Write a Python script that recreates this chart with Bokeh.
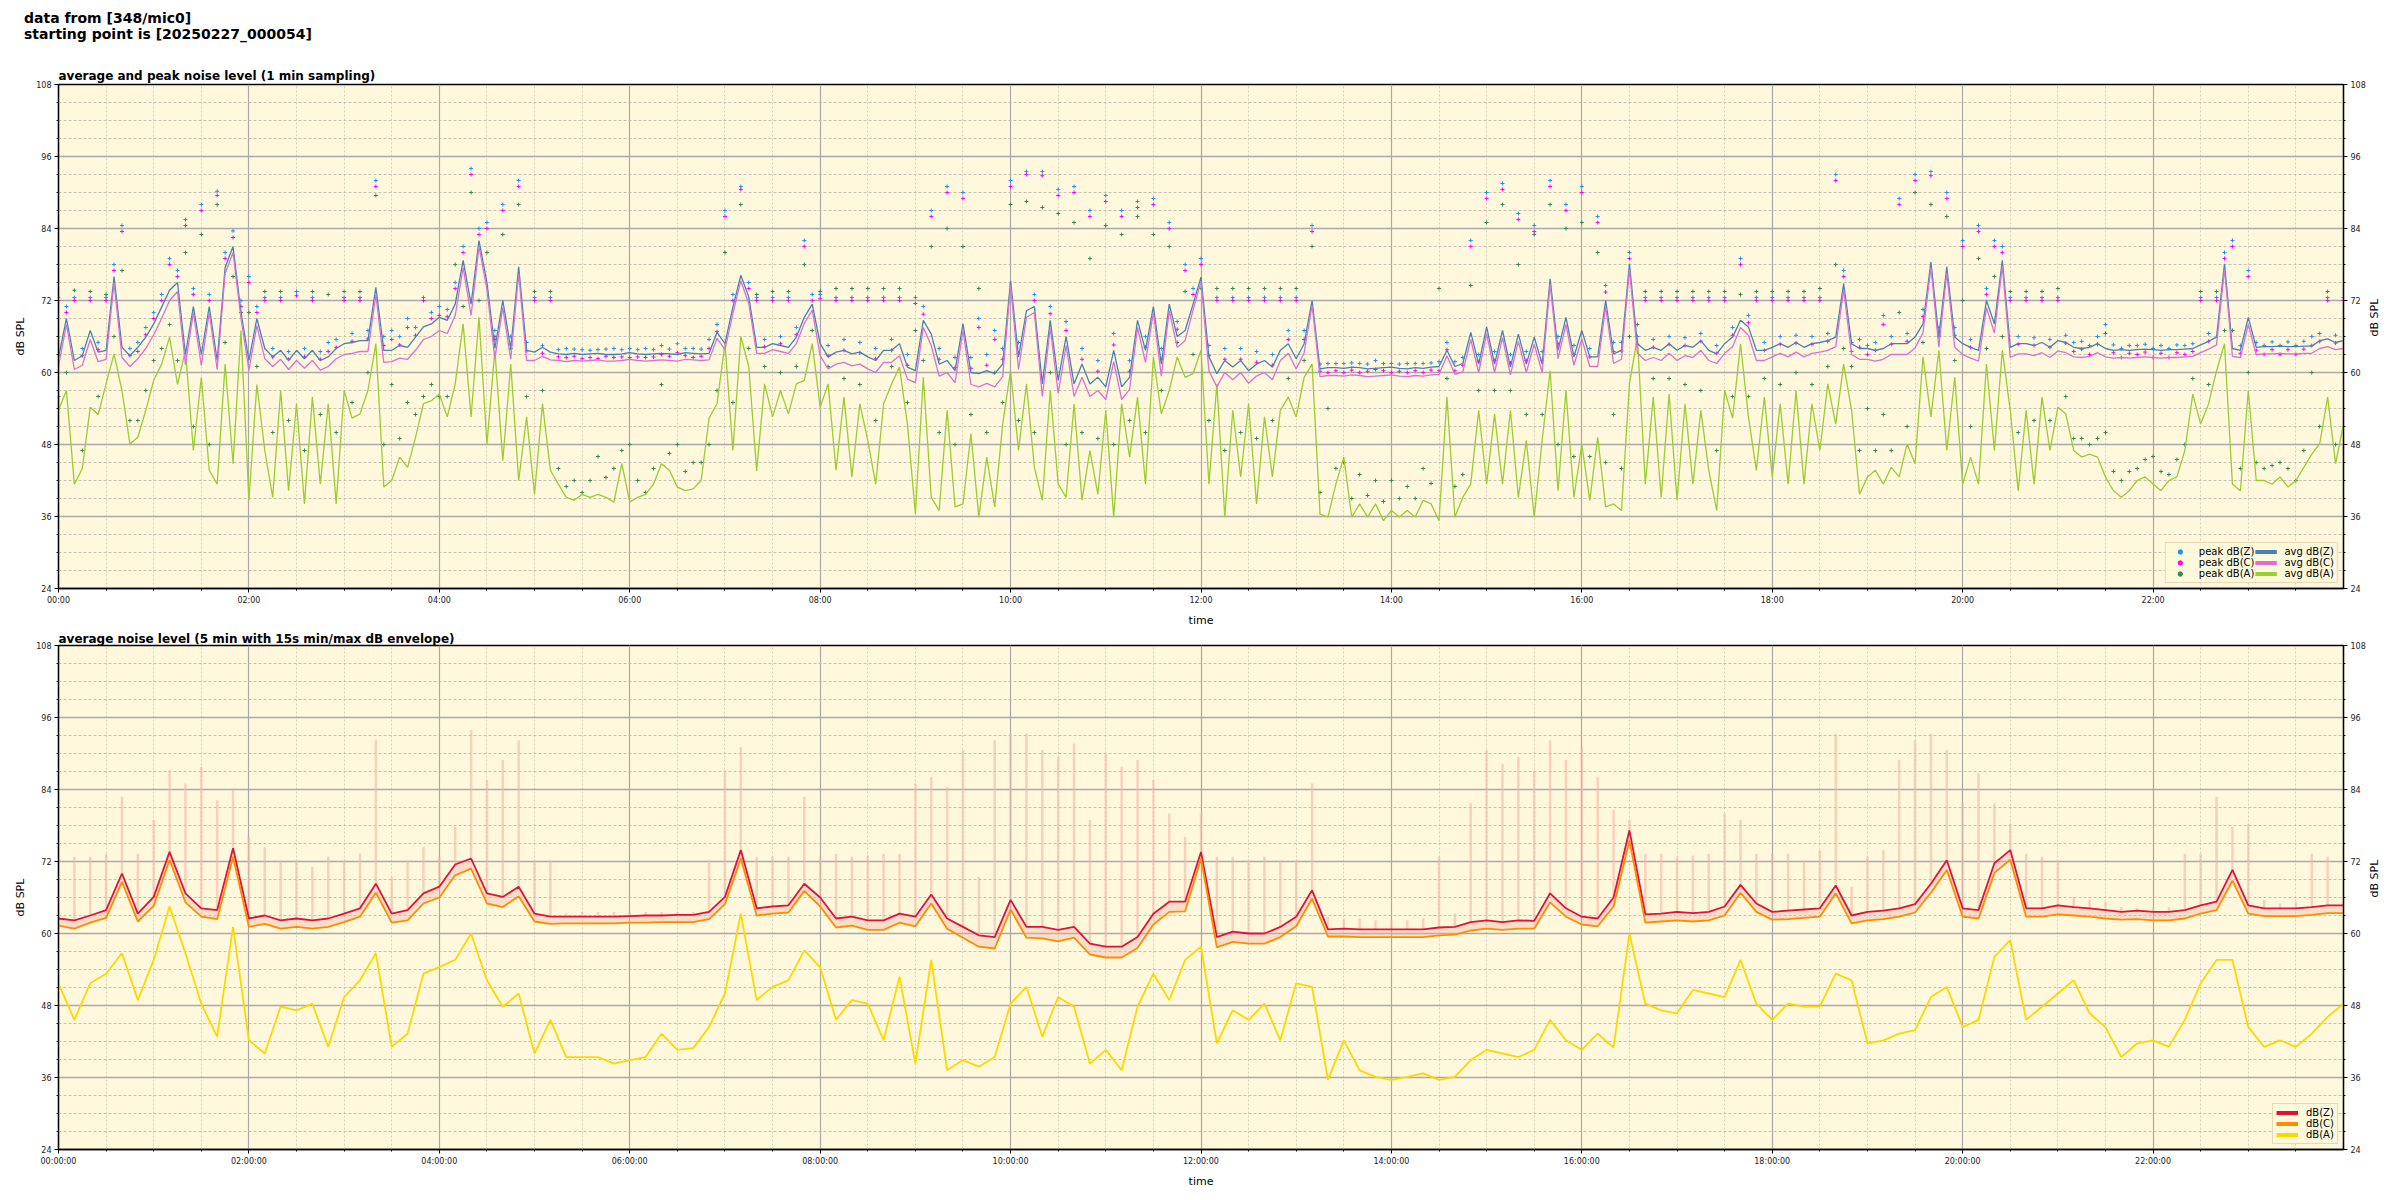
import math
from bokeh.plotting import figure
from bokeh.models import FixedTicker, LinearAxis, Legend, LegendItem, Div
from bokeh.layouts import column
from bokeh.embed import file_html
from bokeh.resources import INLINE

suptitle_1 = "data from [348/mic0]"
suptitle_2 = "starting point is [20250227_000054]"
title_1 = "average and peak noise level (1 min sampling)"
title_2 = "average noise level (5 min with 15s min/max dB envelope)"

tick_hours = [0, 2, 4, 6, 8, 10, 12, 14, 16, 18, 20, 22]
tick_labels_1 = ["00:00", "02:00", "04:00", "06:00", "08:00", "10:00",
                 "12:00", "14:00", "16:00", "18:00", "20:00", "22:00"]
tick_labels_2 = ["00:00:00", "02:00:00", "04:00:00", "06:00:00", "08:00:00", "10:00:00",
                 "12:00:00", "14:00:00", "16:00:00", "18:00:00", "20:00:00", "22:00:00"]
db_ticks = [24, 36, 48, 60, 72, 84, 96, 108]

# ---- panel 1: 1-min averages, read every 5 minutes (12 values per hour) ----
avg_z = [
    62.5, 69, 62, 62.8, 67, 63.4, 63.7, 76, 64.2, 62.8, 64.2, 65.9,
    68.1, 70.9, 73.7, 75, 63, 71, 63, 71, 62, 77.5, 81, 70,
    62, 69, 64, 62.6, 63.7, 62, 63.7, 62.3, 63.7, 62, 62.6, 64,
    64.8, 65, 65.3, 65.3, 74.2, 63.7, 63.7, 64.5, 64.2, 65.9, 67.6, 68.1,
    69.2, 68.7, 71.4, 78.7, 71.4, 82, 75, 64, 72, 64, 77.6, 63.7,
    63.4, 64.2, 63.4, 63.1, 63, 63.2, 63, 63.1, 63.2, 63, 63, 63.1,
    63.3, 63.1, 63, 63.1, 63.2, 63.1, 63, 63.3, 63.2, 63.1, 63.2, 66.7,
    64.8, 70.9, 76.2, 72.6, 64.2, 64.2, 64.8, 64.5, 64.2, 65.9, 69.2, 71.4,
    64.8, 62.6, 63.4, 63.7, 63.1, 63.4, 62.6, 62, 63.7, 63.7, 64.8, 60.9,
    60.3, 68.7, 66.4, 61.4, 62, 60.3, 68.1, 60, 59.8, 60.3, 59.8, 61.4,
    75.3, 62.6, 70.3, 71, 58.1, 68.7, 58.7, 66, 58.1, 61.4, 58.1, 59.2,
    57.6, 63.7, 57.6, 59.2, 68.7, 63.7, 71, 61.4, 71.4, 66, 67, 71.4,
    75.9, 62.6, 59.8, 62, 60.9, 62, 60.3, 61.4, 62, 60.9, 63.7, 64.8,
    62.3, 64.8, 72, 60.6, 60.8, 60.8, 60.7, 60.9, 60.8, 60.6, 60.7, 60.8,
    60.9, 60.7, 60.6, 60.8, 60.7, 60.9, 61, 63.7, 61, 61.5, 66.7, 61.4,
    67.6, 61.4, 67, 60.9, 66.4, 61.4, 65.9, 61.4, 75.6, 63.7, 69.2, 62.6,
    67, 62.6, 62.6, 72, 63.1, 63.7, 78.1, 64.8, 63.7, 64.2, 63.7, 64.8,
    63.7, 64.5, 64.2, 65.3, 63.7, 63.1, 64.8, 65.9, 68.7, 67.6, 63.7, 63.7,
    64.2, 64.8, 64.2, 65, 64.2, 64.8, 65, 65.3, 65.9, 74.8, 64.8, 64,
    64, 63.7, 64, 64.8, 64.8, 64.8, 65.9, 68.1, 78.4, 65.9, 77.6, 65.9,
    64.8, 64.2, 63.7, 72, 68.1, 78.7, 64.2, 64.8, 64.8, 64.5, 65, 64.2,
    65.3, 65, 64.2, 64, 64.2, 64.8, 64, 63.7, 63.8, 63.7, 63.8, 63.9,
    63.8, 63.7, 63.8, 63.8, 63.9, 64, 64.6, 65.2, 65.9, 78.1, 64, 63.7,
    69.2, 64.2, 64.3, 64.3, 64.4, 64.3, 64.3, 64.4, 64.4, 65.3, 65.6, 65,
    65.3,
]
avg_c = [
    61, 68, 60.5, 61.2, 65.5, 61.8, 62.2, 75, 62.5, 61, 62.3, 64,
    66.3, 69, 72, 73.5, 61.3, 70, 61.2, 70, 60.5, 76.5, 80, 69,
    60.4, 67.8, 62.3, 61, 62.2, 60.5, 62, 60.7, 62, 60.4, 61, 62.3,
    63, 63.2, 63.5, 63.5, 73, 61.7, 61.8, 62.4, 62.2, 63.7, 65.5, 66,
    67, 66.5, 69.5, 77.5, 69.5, 81, 73.8, 62.3, 70.8, 62.2, 76.5, 62,
    62, 62.7, 62.1, 62, 61.8, 62, 61.9, 62, 62.1, 61.9, 61.9, 62,
    62.2, 62, 61.9, 62, 62.1, 62, 61.9, 62.2, 62.1, 62, 62.1, 65.7,
    63.8, 69.8, 75.3, 71.5, 63.2, 63.2, 63.8, 63.5, 63.2, 64.8, 68.2, 70.4,
    62.8, 60.6, 61.4, 61.7, 61.1, 61.4, 60.6, 60, 61.7, 61.7, 62.8, 58.9,
    58.3, 67.5, 64.5, 59.4, 60, 58.3, 67, 58, 57.6, 58.2, 57.6, 59.3,
    74.5, 60.5, 69.2, 70, 56, 67.5, 56.5, 64.5, 56, 59.2, 56, 57,
    55.5, 61.8, 55.5, 57.2, 67.5, 61.7, 70, 59.4, 70.3, 64.2, 65.3, 70.4,
    75.2, 60.3, 57.6, 60, 58.8, 60, 58.2, 59.4, 60, 58.8, 62, 63.2,
    60.6, 63.3, 71.2, 59.3, 59.5, 59.5, 59.4, 59.6, 59.5, 59.3, 59.4, 59.5,
    59.6, 59.4, 59.3, 59.5, 59.4, 59.6, 59.7, 62.8, 59.7, 60.1, 65.5, 60,
    66.5, 60, 65.8, 59.6, 65.2, 60, 64.7, 60, 74.7, 62.3, 68, 61.2,
    65.6, 61, 61, 71, 61.5, 62.2, 77.2, 63.2, 62, 62.5, 62, 63.2,
    62, 62.8, 62.5, 63.7, 62, 61.5, 63.2, 64.3, 67.5, 66.2, 62, 62,
    62.6, 63.2, 62.6, 63.4, 62.6, 63.2, 63.4, 63.7, 64.3, 73.8, 63, 62.2,
    62.2, 61.9, 62.2, 63, 63, 63, 64.1, 66.6, 77.5, 64.2, 76.6, 64.2,
    63, 62.4, 61.9, 70.8, 66.6, 77.8, 62.5, 63.1, 63.1, 62.8, 63.3, 62.5,
    63.6, 63.3, 62.6, 62.5, 62.7, 63.3, 62.6, 62.4, 62.5, 62.4, 62.5, 62.6,
    62.5, 62.4, 62.5, 62.5, 62.6, 62.7, 63.3, 63.9, 64.6, 77.2, 62.7, 62.5,
    68, 63, 63.1, 63.1, 63.2, 63.1, 63.1, 63.2, 63.2, 64, 64.3, 63.8,
    64,
]
avg_a = [
    53.7, 57, 41.4, 44, 54.2, 53, 58.1, 63.1, 57, 48.1, 49.2, 53.7,
    58.7, 61.4, 65.9, 58, 63.7, 47, 59.2, 43.7, 41.4, 61.4, 44.8, 67,
    38.7, 58, 47, 39.2, 57, 40.3, 54.8, 38.1, 55.9, 41.4, 54.8, 38.1,
    57, 52.4, 53.1, 57, 64.8, 40.9, 42, 45.9, 44.2, 49.2, 54.8, 55.3,
    56.4, 52.6, 58.1, 68.1, 52.6, 69.2, 48.1, 63.7, 45.3, 61.4, 42, 52.6,
    39.7, 54.8, 43.7, 41.4, 39.2, 38.7, 39.7, 39.2, 39.7, 39.2, 38.4, 44.8,
    38.4, 39.2, 39.7, 41.4, 44.8, 43.7, 40.9, 40.3, 40.6, 42, 52.4, 54.8,
    64.8, 47, 66, 61, 43.6, 58.1, 52.6, 57, 53.1, 58.1, 58.7, 64.8,
    54.2, 58.1, 43.7, 55.9, 42.6, 54.8, 48.7, 41.4, 54.8, 58.1, 60.9, 51.4,
    36.4, 59.2, 39.2, 37, 53.7, 37.6, 38.1, 49.8, 35.9, 45.9, 37.6, 51.4,
    60.3, 47, 58.1, 44.2, 38.7, 57, 41.4, 39.2, 54.8, 38.7, 47, 39.7,
    53.7, 35.9, 54.8, 45.9, 55.9, 41.4, 62.6, 53.1, 57, 62.6, 59.2, 59.8,
    63.7, 41.4, 58.1, 35.9, 53.7, 42.6, 54.8, 38.1, 52.6, 42.6, 53.7, 55.9,
    52.6, 59.2, 61.4, 36.4, 35.9, 41.4, 45.9, 35.9, 38.1, 35.9, 38.1, 35.3,
    37, 35.9, 37, 35.9, 38.7, 38.1, 35.3, 55.9, 35.9, 39.2, 41.4, 53.7,
    41.4, 53.1, 41.4, 53.7, 39.2, 48.7, 35.9, 48.7, 60.3, 40.3, 57, 39.2,
    48, 38.7, 49.2, 37.6, 38.1, 37, 58.1, 65.9, 41.4, 55.9, 39.2, 56.4,
    38.7, 54.8, 41.4, 53.7, 43.7, 37, 57, 52.4, 64.8, 52.6, 43.7, 55.9,
    42.6, 54.8, 41.4, 57, 41.4, 54.8, 47, 58.1, 51.4, 61.4, 53.7, 39.7,
    42.6, 43.7, 41.4, 44.2, 42.6, 48.1, 44.8, 62.6, 52.6, 63.7, 47, 59.2,
    41.4, 45.9, 41.4, 61.4, 47, 63.7, 53.7, 40.3, 53.7, 41.4, 55.9, 47,
    54.2, 53.1, 47, 45.9, 46.4, 45.9, 42.6, 40.3, 39.2, 40.3, 42, 42.6,
    41.4, 40.3, 42, 42.6, 47, 56.4, 51.4, 54.8, 60.3, 64.8, 41.4, 40.3,
    57, 42, 42, 41.4, 42.6, 40.9, 42, 44.2, 46.4, 48.1, 55.9, 44.8,
    51.4,
]

# ---- panel 1: per-minute peaks, read at hh:00, hh:10, ... (6 values per hour) ----
peak_z = [
    72.5, 72.5, 72.5, 72.5, 84.5, 65,   70, 79, 85.5, 88, 90.2, 83.6,
    76, 72.5, 72.5, 73.5, 72.5, 65,     72.5, 72.5, 92, 67, 69, 72.5,
    71, 75, 94, 85, 88, 92,             72.5, 72.5, 64, 63.8, 63.8, 64,
    64, 64, 64.5, 64.8, 64, 65.5,       87, 91, 72.5, 72.5, 72.5, 82,
    73, 72.5, 72.5, 72.5, 72.5, 72.5,   72.5, 87, 91, 90, 69, 67,
    92, 93.5, 93.5, 90.5, 91, 87,       89.5, 87, 88.5, 89, 85, 78,
    79, 72.5, 72.5, 72.5, 72.5, 72.5,   72.5, 84.5, 61.5, 61.5, 61.5, 62,
    61.5, 61.5, 61.5, 61.8, 61.8, 82,   90, 91.5, 86.5, 84.5, 92, 88,
    91, 86, 65, 80, 72.5, 72.5,         72.5, 72.5, 72.5, 72.5, 79, 72.5,
    72.5, 72.5, 72.5, 72.5, 93, 65,     64.5, 69.5, 89, 93, 93.5, 90,
    82, 84.5, 82, 72.5, 72.5, 72.5,     72.5, 65, 64.5, 68, 64, 64.5,
    64, 64, 64.5, 72.5, 72.5, 82,       77, 64.5, 64.5, 64.5, 66, 72.5,
    72.5,
]
peak_c = [
    72, 72, 72, 72, 83.5, 63.5,         69, 78, 84.5, 87, 89.5, 82.5,
    75, 72, 72, 72.8, 72, 63.5,         72, 72, 91, 65.5, 67.5, 72,
    69.5, 74, 93, 84, 87, 91,           72, 72, 62.5, 62.3, 62.3, 62.5,
    62.5, 62.5, 63, 63.3, 62.5, 64,     86, 90.5, 72, 72, 72, 81,
    72.3, 72, 72, 72, 72, 72,           71.5, 86, 90, 89, 67.5, 65.5,
    91, 93, 92.8, 89.5, 90, 86,         88.5, 86, 87.5, 88, 84, 77,
    78, 72, 72, 72, 72, 72,             72, 83.5, 60, 60, 60, 60.5,
    60, 60, 60, 60.3, 60.3, 81,         89, 90.5, 85.5, 83.5, 91, 87,
    90, 85, 63.5, 79, 72, 72,           72, 72, 72, 72, 78, 72,
    72, 72, 72, 72, 92, 63.5,           63, 68, 88, 92, 92.8, 89,
    81, 83.5, 81, 72, 72, 72,           72, 63.5, 63, 66.5, 62.5, 63,
    62.5, 62.5, 63, 72, 72, 81,         76, 63, 63, 63, 64.5, 72,
    72,
]
peak_a = [
    56, 73.7, 73.5, 73, 77, 52,         62, 68, 80, 83, 88, 76,
    70, 73.5, 73.5, 73.5, 73.5, 73,     73.5, 73.5, 89.5, 58, 55, 56,
    56, 78, 90, 80, 83, 88,             73.5, 73.5, 41, 40, 46, 44,
    48, 40, 58, 48, 45, 48,             80, 88, 73, 73.5, 73.5, 78,
    73.5, 74, 74, 74, 74, 74,           67, 81, 84, 81, 74, 60,
    88, 88.5, 87.5, 86.5, 85, 79,       84.5, 83, 86, 83, 81, 73.5,
    74, 74, 74, 74, 74, 74,             74, 81, 54, 45, 43, 42,
    42, 41, 44, 74, 41, 74.5,           85, 88, 78, 83, 88, 84,
    85, 80, 53, 66, 73.5, 73.5,         73.5, 73.5, 73.5, 73.5, 73, 73.5,
    73.5, 73.5, 73.5, 74, 78, 61,       54, 53, 70, 90, 88, 86,
    72, 79, 76, 73.5, 73.5, 73.5,       74, 49, 48, 50, 42, 44,
    46, 43, 48, 73.5, 73.5, 67,         60, 44, 45, 42, 60, 73.5,
    60,
]
# ---- panel 1: per-minute peaks, read at hh:05, hh:15, ... (6 values per hour) ----
peak_z_b = [
    71, 64, 65, 78, 64, 67.5,           73, 77, 74, 73, 80, 72,
    71, 64, 63.5, 64, 63.5, 65.5,       66.5, 67, 66, 66, 67.5, 70,
    70.5, 81, 84, 67, 66, 65,           64.5, 63.8, 63.9, 63.7, 63.9, 63.8,
    63.8, 63.8, 63.9, 64, 63.9, 68,     73, 75, 65.5, 66, 67.5, 73,
    64.5, 65.5, 65, 64, 65.5, 63,       71, 64, 62.5, 62.5, 63, 64,
    65, 73, 71, 68.5, 64, 62,           66.5, 62, 66, 64, 68.5, 74,
    64.5, 64, 64, 63.5, 63, 67,         67, 61.4, 61.5, 61.6, 61.4, 61.5,
    61.4, 61.5, 61.6, 65, 62.5, 63,     63.5, 63, 63.5, 63.5, 66, 64.5,
    64, 74.5, 65, 66, 65.5, 66,         65.8, 66.5, 64.5, 67.5, 69.5, 65,
    66, 66.2, 66, 66.5, 77, 65.5,       65, 66, 66.5, 70.5, 67.5, 67.5,
    65.5, 74, 81, 66, 65.8, 65.5,       66.2, 65.2, 66, 64.6, 64.5, 64.7,
    64.5, 64.6, 64.8, 66.5, 80, 64.5,   65, 65.1, 65.1, 65.2, 66.5, 66.2,
]
peak_c_b = [
    70, 62.8, 63.8, 77, 62.8, 66.3,     72, 76, 73, 72, 79, 71,
    70, 62.6, 62.2, 62.6, 62.2, 64.2,   65.2, 65.6, 64.5, 64.6, 66.2, 69,
    69.3, 80, 83, 65.5, 64.6, 63.6,     63.2, 62.6, 62.7, 62.5, 62.7, 62.6,
    62.6, 62.6, 62.7, 62.8, 62.7, 66.8, 72, 74, 64.3, 64.8, 66.3, 72,
    62.8, 63.7, 63.3, 62.3, 63.7, 61.2, 69.7, 62.2, 60.8, 60.7, 61.2, 62.2,
    63.2, 72, 69.8, 67, 62.2, 60.2,     64.6, 60.2, 64.2, 62.2, 67.2, 73,
    62.8, 62.2, 62.2, 61.7, 61.2, 65.5, 65.5, 60.2, 60.3, 60.4, 60.2, 60.3,
    60.2, 60.3, 60.4, 63.8, 61.2, 61.8, 62, 61.6, 62, 62, 64.8, 63,
    62.6, 73.4, 63.6, 64.7, 64.2, 64.7, 64.5, 65.2, 63.2, 66.2, 68.3, 63.7,
    64.7, 64.9, 64.7, 65.2, 76, 64.2,   63.7, 64.7, 65.2, 69.3, 66.2, 66.2,
    64.2, 73, 80, 64.7, 64.5, 64.2,     64.9, 63.9, 64.7, 63.3, 63.2, 63.4,
    63.2, 63.3, 63.5, 65.2, 79, 63.2,   63.7, 63.8, 63.8, 63.9, 65.2, 64.9,
]
peak_a_b = [
    60, 47, 56, 66, 52, 57,             64, 62, 51, 48, 65, 70,
    61, 50, 52, 47, 53, 50,             55, 60, 48, 49, 53, 58,
    56, 71, 72, 66, 64, 56,             57, 44, 42, 42, 42.5, 47,
    42, 44, 46.5, 43.5, 45, 57,         55, 64, 61, 60, 61, 67,
    61, 59, 58, 52, 61, 55,             62, 50, 48, 53, 50, 55,
    52, 50, 60, 48, 50, 49,             48, 52, 50, 57, 65, 63,
    52, 47, 50, 49, 52, 59,             62, 40, 44, 39, 39.5, 38.5,
    39, 39, 41.5, 59, 43, 57,           57, 57, 53, 53, 48, 46,
    46, 45, 44, 68, 59, 59,             58, 57, 47, 56, 56, 59,
    58, 60, 58, 61, 64, 47,             47, 47, 51, 65, 66, 62,
    51, 64, 66, 50, 52, 52,             56, 49, 49, 43.5, 43.5, 45.5,
    43.5, 45.5, 59, 58, 67, 44,         45, 44.5, 44, 47, 51, 48,
]

# ---- panel 2: 5-min averages and 15 s max envelope, read every 10 minutes ----
lvl_z = [
    62.5, 62.2, 63, 63.9, 70, 63.3,     66.1, 73.6, 66.7, 64.2, 63.9, 74.2,
    62.5, 63, 62.2, 62.5, 62.2, 62.5,   63.3, 64.2, 68.3, 63.3, 63.9, 66.7,
    67.8, 71.5, 72.5, 66.7, 66.1, 67.8, 63.3, 62.8, 62.8, 62.8, 62.8, 62.8,
    62.9, 63, 63, 63.1, 63.1, 63.6,     66.1, 73.9, 64.2, 64.5, 64.7, 68.3,
    66, 62.5, 62.8, 62.2, 62.2, 63.3,   62.8, 66.5, 62.5, 61.1, 59.7, 59.4,
    65.6, 61.1, 61.1, 60.6, 61.1, 58.3, 57.8, 57.8, 59.4, 63.3, 65.3, 65.3,
    73.6, 59.4, 60.3, 60, 60, 61.1,     62.8, 67.2, 60.7, 60.8, 60.7, 60.7,
    60.7, 60.7, 60.7, 61, 61.1, 61.9,   62.2, 61.9, 62.2, 62.1, 66.7, 64.2,
    62.8, 62.5, 66, 77.2, 63.2, 63.3,   63.6, 63.4, 63.6, 64.5, 68.1, 65,
    63.6, 63.8, 64, 64.2, 68, 63,       63.6, 63.8, 64.2, 64.9, 68.3, 72.2,
    64.2, 63.9, 71.7, 73.9, 64.2, 64.2, 64.7, 64.4, 64.2, 63.9, 63.6, 63.8,
    63.6, 63.6, 63.9, 64.7, 65.3, 70.6, 64.7, 64.2, 64.2, 64.2, 64.4, 64.7,
    64.7,
]
lvl_c = [
    61.3, 60.8, 61.8, 62.6, 68.6, 62,   64.6, 72.3, 65.2, 62.8, 62.4, 72.8,
    61.1, 61.6, 60.8, 61.1, 60.8, 61.1, 61.9, 62.8, 66.8, 61.8, 62.2, 65,
    66, 69.7, 70.8, 65, 64.4, 66.2,     62, 61.6, 61.7, 61.7, 61.7, 61.7,
    61.8, 61.8, 61.9, 61.9, 61.9, 62.4, 64.9, 72.5, 63, 63.3, 63.5, 67.1,
    64.5, 61, 61.3, 60.6, 60.6, 61.8,   61.2, 65, 60.8, 59.3, 57.8, 57.5,
    64, 59.3, 59.2, 58.7, 59.3, 56.5,   56, 56, 57.6, 61.5, 63.6, 63.7,
    72.5, 57.7, 58.6, 58.3, 58.3, 59.4, 61.2, 65.8, 59.5, 59.5, 59.4, 59.4,
    59.4, 59.4, 59.4, 59.7, 59.8, 60.5, 60.8, 60.6, 60.8, 60.8, 65.2, 62.8,
    61.5, 61.2, 64.5, 75.5, 61.8, 62,   62.2, 62, 62.2, 63, 66.8, 63.6,
    62.3, 62.4, 62.6, 62.8, 66.7, 61.7, 62.2, 62.4, 62.8, 63.5, 66.8, 70.6,
    62.8, 62.5, 70.1, 72.3, 62.8, 62.8, 63.2, 63, 62.8, 62.5, 62.3, 62.4,
    62.2, 62.2, 62.5, 63.3, 63.9, 68.8, 63.3, 62.9, 62.9, 62.9, 63.1, 63.4,
    63.4,
]
lvl_a = [
    51.7, 45.6, 51.7, 53.3, 56.7, 48.9, 55.6, 64.5, 56.7, 48.3, 42.8, 61.1,
    42.2, 40, 47.8, 47.2, 48.3, 41.1,   49.4, 52.2, 56.7, 41.1, 43.3, 53.3,
    54.4, 55.6, 60, 52.2, 47.8, 50,     40, 45.6, 39.4, 39.4, 39.4, 38.3,
    38.9, 39.4, 43.3, 40.6, 40.9, 44.4, 50, 63.3, 48.9, 51.1, 52.2, 57.2,
    54.4, 45.6, 48.9, 48.3, 42.2, 52.8, 38.3, 55.6, 37.2, 38.9, 37.8, 39.4,
    48.3, 51.1, 42.8, 49.4, 47.8, 38.3, 40.6, 37.2, 47.8, 53.3, 48.9, 55.6,
    57.8, 41.7, 47.2, 45.6, 48.3, 42.2, 51.7, 51.1, 35.6, 42.2, 37.2, 36.1,
    35.6, 36.1, 36.7, 35.6, 36.1, 38.9, 40.6, 40, 39.4, 40.6, 45.6, 42.2,
    40.6, 43.3, 41, 60, 48.3, 47.2,     46.7, 50.6, 50, 49.4, 55.6, 48.3,
    45.6, 48.3, 47.8, 47.8, 53.3, 52.2, 41.7, 42.2, 43.3, 43.9, 49.4, 51.1,
    44.4, 45.6, 56.1, 58.9, 45.6, 47.8, 50, 52.2, 46.7, 44.4, 39.4, 41.7,
    42.2, 41.1, 45.6, 51.7, 55.6, 55.6, 44.4, 41.1, 42.2, 41.1, 43.3, 46.1,
    48.3,
]
env_max = [
    72.2, 72.8, 72.8, 73.3, 82.8, 73.3, 78.9, 87.2, 85, 87.8, 82.2, 83.9,
    76.1, 74.4, 72.2, 72.2, 71.1, 72.8, 72.2, 73.3, 92.2, 69.4, 72.2, 74.4,
    72.8, 77.8, 93.9, 85.6, 88.9, 92.2, 72.2, 72.2, 63.3, 63.6, 63.6, 63.6,
    63.6, 63.6, 63.6, 63.6, 63.6, 72.2, 87.2, 91.1, 72.8, 72.8, 72.8, 82.8,
    72.8, 73.3, 72.8, 73, 73.3, 73.3,   85, 86.1, 84.4, 90.6, 69.4, 92.2,
    93.3, 93.3, 90.6, 89.4, 91.7, 78.9, 90, 87.8, 88.9, 85.6, 80, 76.1,
    80, 72.8, 72.8, 72.2, 72.8, 72.2,   72.2, 85, 62.8, 62.5, 62.5, 62.2,
    62.2, 62.2, 62.5, 72.8, 63.3, 81.7, 90.6, 88.3, 89.4, 87.2, 92.2, 88.9,
    91.1, 86.1, 80.6, 78.9, 73.3, 73.3, 72.8, 73, 73.3, 80, 78.9, 73.3,
    73.3, 73.3, 72.2, 73.9, 93.3, 67.8, 72.8, 73.9, 88.9, 92.2, 93.3, 90.6,
    81.7, 86.7, 81.7, 78.3, 73.3, 72.8, 72.2, 66.1, 65.6, 65.3, 64.4, 64.2,
    64.4, 64.4, 73.3, 73.3, 82.8, 77.8, 78.3, 65.6, 65, 65.3, 73.3, 72.8,
    65,
]

t5 = [i / 12 for i in range(len(avg_z))]
t10 = [i / 6 for i in range(len(peak_z))]
t10_b = [(2 * i + 1) / 12 for i in range(len(peak_z_b))]
t10_2 = [i / 6 for i in range(len(lvl_z))]

x_minor = [h / 2 for h in range(0, 49) if h % 4]
db_minor = [d for d in range(24, 109, 3) if (d - 24) % 12]

FONT = "DejaVu Sans"
BG = "#fff8dc"
NAN = float("nan")


def style(p, labels):
    p.background_fill_color = BG
    p.border_fill_color = "white"
    p.outline_line_color = "black"
    p.outline_line_width = 1.3
    xt = FixedTicker(ticks=tick_hours, minor_ticks=x_minor)
    yt = FixedTicker(ticks=db_ticks, minor_ticks=db_minor)
    p.xaxis.ticker = xt
    p.yaxis.ticker = yt
    p.xgrid.ticker = xt
    p.ygrid.ticker = yt
    p.xaxis.major_label_overrides = {h: lab for h, lab in zip(tick_hours, labels)}
    p.xaxis.axis_label = "time"
    p.yaxis.axis_label = "dB SPL"
    right = LinearAxis(ticker=yt, axis_label="dB SPL")
    if "axis_label_orientation" in right.properties():
        right.axis_label_orientation = math.pi / 2
    p.add_layout(right, "right")
    for ax in p.axis:
        ax.major_label_text_font = FONT
        ax.major_label_text_font_size = "8px"
        ax.major_label_text_color = "#222222"
        ax.axis_label_text_font = FONT
        ax.axis_label_text_font_size = "11px"
        ax.axis_label_text_font_style = "normal"
        ax.axis_label_text_color = "black"
        ax.axis_line_color = "black"
        ax.axis_line_width = 1.3
        ax.major_tick_line_color = "black"
        ax.major_tick_out = 4
        ax.major_tick_in = 0
        ax.minor_tick_line_color = "black"
        ax.minor_tick_out = 2
        ax.minor_tick_in = 0
        ax.major_label_standoff = 3
        ax.axis_label_standoff = 6
    p.xgrid.grid_line_color = "#a9a9a9"
    p.ygrid.grid_line_color = "#a9a9a9"
    p.xgrid.grid_line_width = 1.2
    p.ygrid.grid_line_width = 1.5
    p.ygrid.minor_grid_line_color = "#b8b2a4"
    p.ygrid.minor_grid_line_width = 0.8
    p.ygrid.minor_grid_line_dash = "3 2"
    p.xgrid.minor_grid_line_color = "#ccc6b4"
    p.xgrid.minor_grid_line_width = 0.8
    p.xgrid.minor_grid_line_dash = "2 2"
    p.title.text_font = FONT
    p.title.text_font_size = "12px"
    p.title.text_font_style = "bold"
    p.title.text_color = "black"
    p.title.align = "left"


head = Div(text=suptitle_1 + "<br>" + suptitle_2, width=2392, height=46, margin=(0, 0, 0, 0),
           styles={"font-family": FONT, "font-weight": "bold", "font-size": "14px",
                   "line-height": "16px", "padding-left": "24px", "padding-top": "10px",
                   "color": "black"})

# ---------------- panel 1 ----------------
p1 = figure(frame_width=2285, frame_height=504, x_range=(0, 24), y_range=(24, 108),
            output_backend="svg", toolbar_location=None, title=title_1,
            min_border_left=58, min_border_right=49, min_border_top=38, min_border_bottom=36)
style(p1, tick_labels_1)
p1.title.standoff = 4

for tt, pa, pz, pc in ((t10, peak_a, peak_z, peak_c), (t10_b, peak_a_b, peak_z_b, peak_c_b)):
    p1.scatter(tt, pa, marker="cross", size=4, line_width=1, color="seagreen")
    p1.scatter(tt, pz, marker="cross", size=4, line_width=1, color="dodgerblue")
    p1.scatter(tt, pc, marker="cross", size=4, line_width=1, color="magenta")
p1.line(t5, avg_a, line_width=1.3, color="yellowgreen")
p1.line(t5, avg_z, line_width=1.3, color="steelblue")
p1.line(t5, avg_c, line_width=1.3, color="orchid")

lg_pz = p1.scatter([NAN], [NAN], marker="circle", size=6, color="dodgerblue")
lg_pc = p1.scatter([NAN], [NAN], marker="circle", size=6, color="magenta")
lg_pa = p1.scatter([NAN], [NAN], marker="circle", size=6, color="seagreen")
lg_az = p1.line([NAN, NAN], [NAN, NAN], line_width=4, color="steelblue")
lg_ac = p1.line([NAN, NAN], [NAN, NAN], line_width=4, color="orchid")
lg_aa = p1.line([NAN, NAN], [NAN, NAN], line_width=4, color="yellowgreen")
leg1 = Legend(items=[
    LegendItem(label="peak dB(Z)", renderers=[lg_pz]),
    LegendItem(label="peak dB(C)", renderers=[lg_pc]),
    LegendItem(label="peak dB(A)", renderers=[lg_pa]),
    LegendItem(label="avg dB(Z)", renderers=[lg_az]),
    LegendItem(label="avg dB(C)", renderers=[lg_ac]),
    LegendItem(label="avg dB(A)", renderers=[lg_aa]),
], location="bottom_right", ncols=2)

# ---------------- panel 2 ----------------
p2 = figure(frame_width=2285, frame_height=504, x_range=(0, 24), y_range=(24, 108),
            output_backend="svg", toolbar_location=None, title=title_2,
            min_border_left=58, min_border_right=49, min_border_top=15, min_border_bottom=42)
style(p2, tick_labels_2)
p2.title.standoff = 0

p2.varea(x=t10_2, y1=lvl_c, y2=lvl_z, fill_color="#f4b0a0", fill_alpha=0.35)
p2.segment(x0=t10_2, y0=lvl_z, x1=t10_2, y1=env_max, line_color="#f4b8a8", line_width=2.5, line_alpha=0.6)
p2.line(t10_2, lvl_z, line_width=1.8, color="crimson")
p2.line(t10_2, lvl_c, line_width=1.8, color="darkorange")
p2.line(t10_2, lvl_a, line_width=1.8, color="gold")

lg_z = p2.line([NAN, NAN], [NAN, NAN], line_width=4, color="crimson")
lg_c = p2.line([NAN, NAN], [NAN, NAN], line_width=4, color="darkorange")
lg_a = p2.line([NAN, NAN], [NAN, NAN], line_width=4, color="gold")
leg2 = Legend(items=[
    LegendItem(label="dB(Z)", renderers=[lg_z]),
    LegendItem(label="dB(C)", renderers=[lg_c]),
    LegendItem(label="dB(A)", renderers=[lg_a]),
], location="bottom_right")

for leg in (leg1, leg2):
    leg.label_text_font = FONT
    leg.label_text_font_size = "10px"
    leg.label_text_color = "black"
    leg.background_fill_color = BG
    leg.background_fill_alpha = 0.9
    leg.border_line_color = "#d9b88e"
    leg.border_line_width = 1.5
    leg.padding = 3
    leg.spacing = 0
    leg.margin = 5
    leg.label_height = 11
    leg.glyph_height = 11
    leg.glyph_width = 22
    leg.label_standoff = 8
p1.add_layout(leg1)
p2.add_layout(leg2)

layout = column(head, p1, p2, spacing=0)
open("out.html", "w").write(file_html(layout, INLINE))
